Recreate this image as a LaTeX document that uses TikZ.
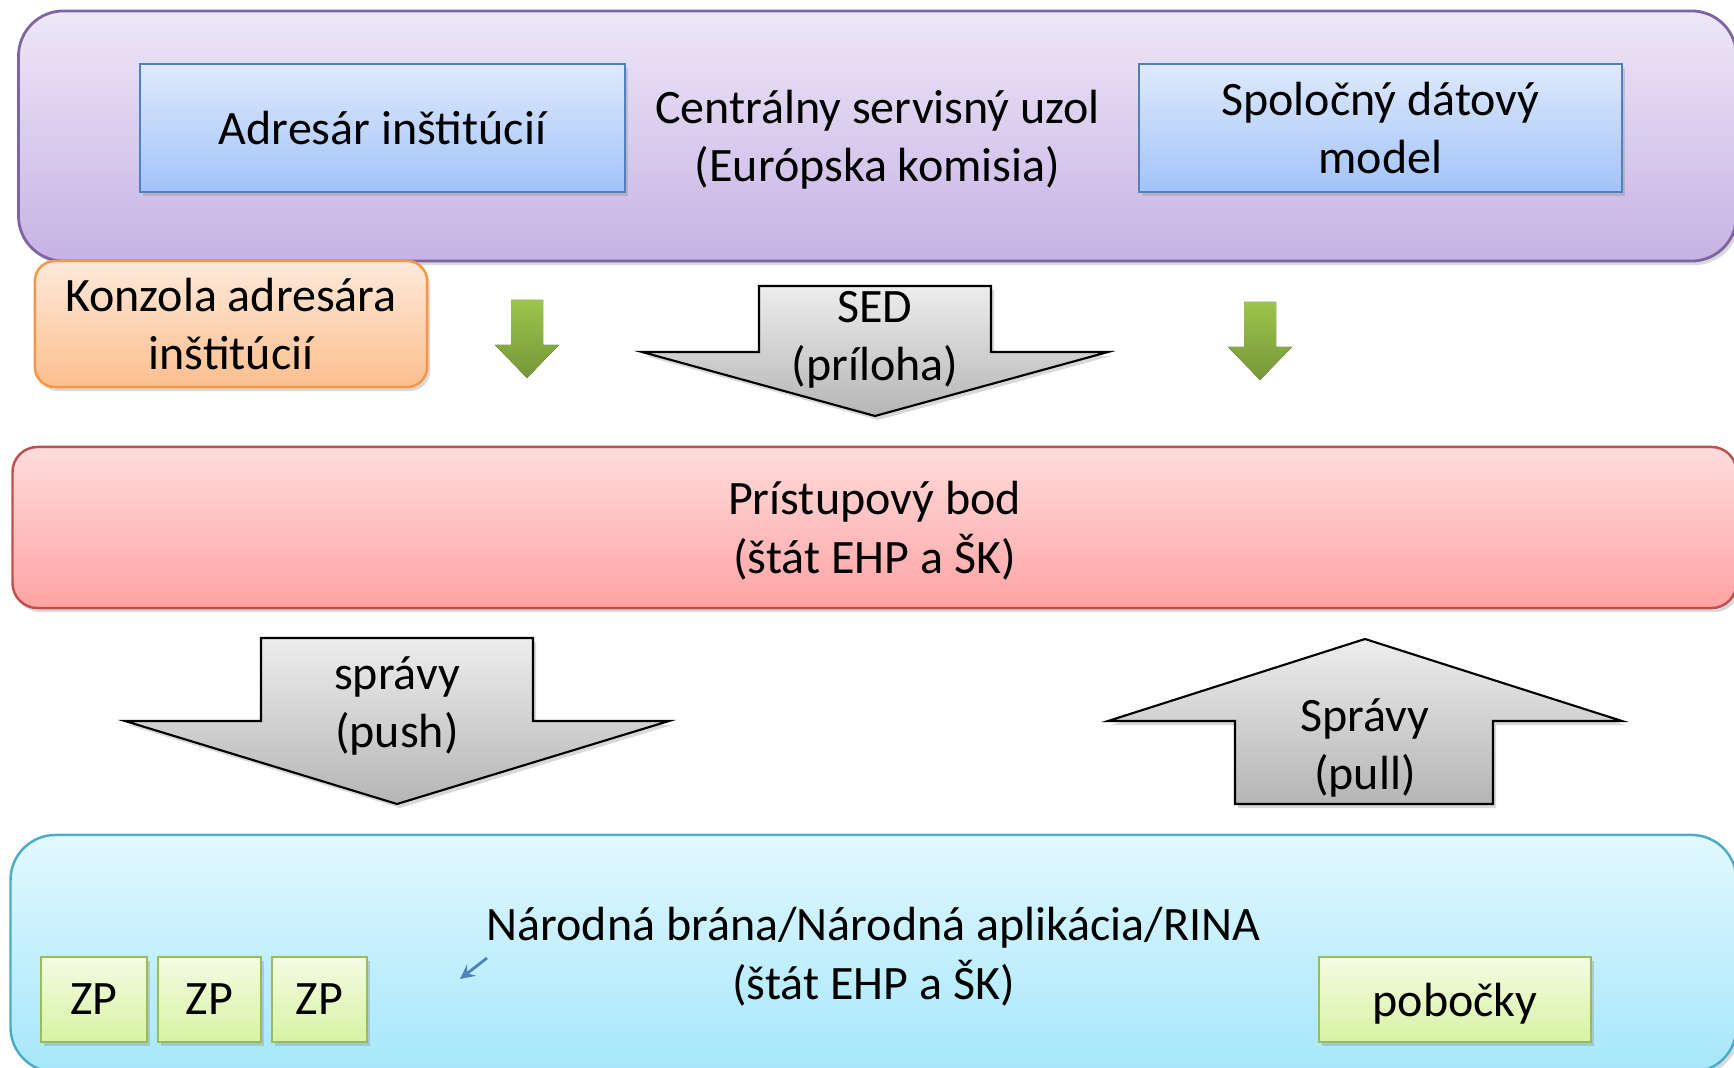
\documentclass[tikz,border=0pt]{standalone}
\usepackage{fontspec}
\setmainfont{Carlito}
\usetikzlibrary{shadows,positioning}
\definecolor{violetline}{HTML}{8064A2}
\definecolor{violettop}{HTML}{EEE7F7}
\definecolor{violetbot}{HTML}{C6B2E4}
\definecolor{blueline}{HTML}{4F81BD}
\definecolor{bluetop}{HTML}{DFE9FD}
\definecolor{bluebot}{HTML}{A2C3F9}
\definecolor{orangeline}{HTML}{F79646}
\definecolor{orangetop}{HTML}{FEE9DB}
\definecolor{orangebot}{HTML}{FBBF8D}
\definecolor{redline}{HTML}{C0504D}
\definecolor{redtop}{HTML}{FFDCDC}
\definecolor{redbot}{HTML}{FFA3A3}
\definecolor{cyanline}{HTML}{4BACC6}
\definecolor{cyantop}{HTML}{E2F8FE}
\definecolor{cyanbot}{HTML}{A5E7FB}
\definecolor{greenline}{HTML}{9BBB59}
\definecolor{greentop}{HTML}{F4FBE3}
\definecolor{greenbot}{HTML}{D7F3A3}
\definecolor{arrowtop}{HTML}{9BC54A}
\definecolor{arrowbot}{HTML}{76963A}
\definecolor{greytop}{HTML}{EDEDED}
\definecolor{greybot}{HTML}{B5B5B5}

\begin{document}
\begin{tikzpicture}[x=0.01cm,y=-0.01cm,>=stealth,
txt/.style={font=\fontsize{13.65}{16.6}\selectfont,align=center,inner sep=0pt,text depth=0pt},
softshadow/.style={drop shadow={opacity=0.3,shadow xshift=0.03cm,shadow yshift=-0.04cm}},
purplebox/.style={txt,softshadow,draw=violetline,line width=0.8pt,rounded corners=0.45cm,top color=violettop,bottom color=violetbot},
bluebox/.style={txt,softshadow,draw=blueline,line width=0.7pt,top color=bluetop,bottom color=bluebot},
orangebox/.style={txt,softshadow,draw=orangeline,line width=0.7pt,rounded corners=0.2cm,top color=orangetop,bottom color=orangebot},
redbox/.style={txt,softshadow,draw=redline,line width=0.7pt,rounded corners=0.25cm,top color=redtop,bottom color=redbot},
cyanbox/.style={txt,softshadow,draw=cyanline,line width=0.7pt,rounded corners=0.45cm,top color=cyantop,bottom color=cyanbot},
greenbox/.style={txt,softshadow,draw=greenline,line width=0.7pt,top color=greentop,bottom color=greenbot},
greenarrow/.style={top color=arrowtop,bottom color=arrowbot},
greyarrow/.style={softshadow,draw=black,line width=0.6pt,top color=greytop,bottom color=greybot},
]
\useasboundingbox (0,0) rectangle (1734,1067);
\clip (0,0) rectangle (1734,1067);
\node[purplebox,minimum width=17.17cm,minimum height=2.5cm] (csu) at (877.5,136) {Centrálny servisný uzol\\(Európska komisia)};
\node[bluebox,minimum width=4.85cm,minimum height=1.28cm] (adr) at (382.5,128) {Adresár inštitúcií};
\node[bluebox,minimum width=4.83cm,minimum height=1.28cm] (sdm) at (1380.5,128) {Spoločný dátový\\model};
\node[orangebox,minimum width=3.92cm,minimum height=1.26cm] (kon) at (231,324) {Konzola adresára\\inštitúcií};
\fill[greenarrow,shift={(527,300)}] (-16,0) -- (16,0) -- (16,45) -- (32,45) -- (0,78) -- (-32,45) -- (-16,45) -- cycle;
\fill[greenarrow,shift={(1260,302)}] (-16,0) -- (16,0) -- (16,45) -- (32,45) -- (0,78) -- (-32,45) -- (-16,45) -- cycle;
\draw[greyarrow] (759,286) -- (991,286) -- (991,352) -- (1108,352) -- (875,416) -- (642,352) -- (759,352) -- cycle;
\node[txt] (sed) at (875,336) {SED\\(príloha)};
\node[redbox,minimum width=17.23cm,minimum height=1.61cm] (pb) at (874.5,527.5) {Prístupový bod\\(štát EHP a ŠK)};
\draw[greyarrow] (261,638) -- (533,638) -- (533,721) -- (669,721) -- (397,804) -- (125,721) -- (261,721) -- cycle;
\node[txt] (push) at (397,702) {správy\\(push)};
\draw[greyarrow] (1365,639) -- (1622,721) -- (1493,721) -- (1493,804) -- (1235,804) -- (1235,721) -- (1108,721) -- cycle;
\node[txt] (pull) at (1365,744) {Správy\\(pull)};
\node[cyanbox,minimum width=17.25cm,minimum height=2.37cm] (nb) at (873.5,953.5) {Národná brána/Národná aplikácia/RINA\\(štát EHP a ŠK)};
\node[greenbox,minimum width=1.06cm,minimum height=0.85cm] (zp1) at (94,999.5) {ZP};
\node[greenbox,minimum width=1.03cm,minimum height=0.85cm] (zp2) at (209.5,999.5) {ZP};
\node[greenbox,minimum width=0.95cm,minimum height=0.85cm] (zp3) at (319.5,999.5) {ZP};
\node[greenbox,minimum width=2.72cm,minimum height=0.85cm] (pob) at (1455,999.5) {pobočky};
\coordinate (from) at (487,958);
\coordinate (to) at (460,979);
\draw[->,blueline,line width=0.8pt] (from) -- (to);
\end{tikzpicture}
\end{document}
